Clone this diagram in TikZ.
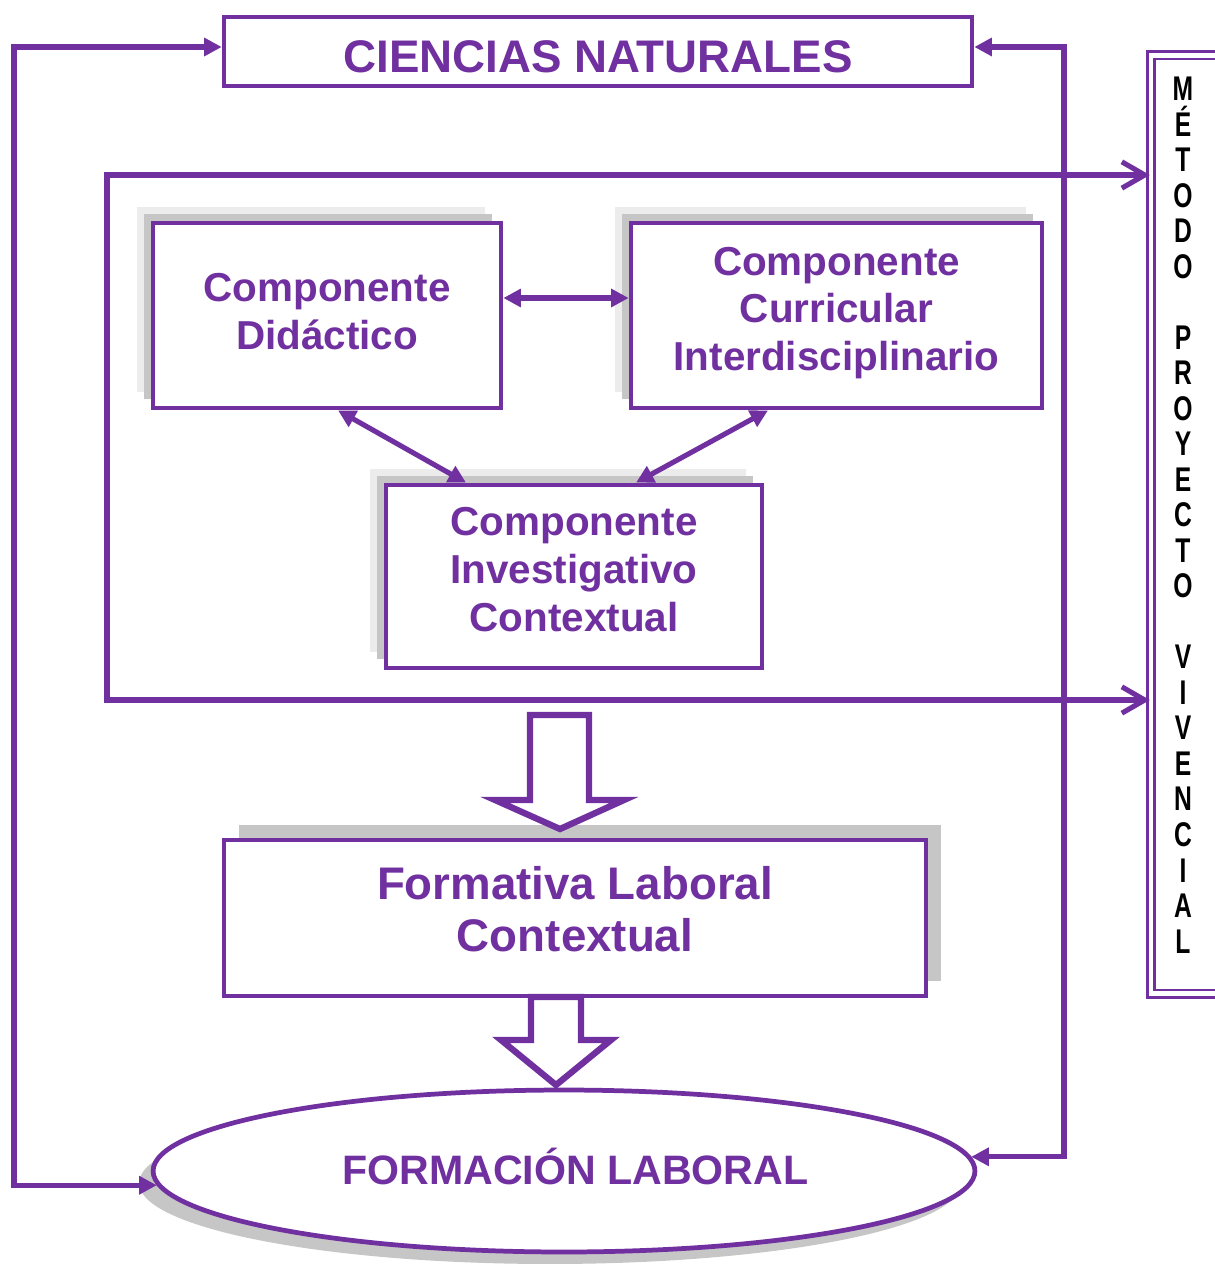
\documentclass[tikz,border=0pt]{standalone}
\usepackage{fontspec}
\setmainfont{Liberation Sans}
\newfontfamily\angosta[FakeStretch=0.72]{Liberation Sans}
\usetikzlibrary{arrows.meta,shapes.geometric,shadows}
\definecolor{morado}{RGB}{112,48,160}

\begin{document}
\begin{tikzpicture}[x=0.02cm,y=-0.02cm,>={Triangle[length=10pt,width=10pt]},
  caja/.style={draw=morado,line width=2.7pt,fill=white,rectangle,align=center,text=morado,
    font=\bfseries\fontsize{23}{27.2}\selectfont},
  sombra/.style={copy shadow={shadow xshift=-0.32cm,shadow yshift=0.32cm,fill=gray!15,draw=none},
    copy shadow={shadow xshift=-0.18cm,shadow yshift=0.18cm,fill=gray!45,draw=none}},
  linea/.style={draw=morado,line width=2.9pt},
  marco/.style={draw=morado,line width=2.9pt,
    arrows={Straight Barb[length=13pt,width=15pt]-Straight Barb[length=13pt,width=15pt]}},
  bloque/.style={draw=morado,line width=3.6pt,fill=white,line join=miter}]
\useasboundingbox (0,0) rectangle (1214,1266);

%metodo proyecto vivencial
\node [draw=morado,double,line width=1.4pt,double distance=2.8pt,rectangle,
  minimum width=1.56cm,minimum height=18.78cm] (metodo) at(1190,524.5){};
\node [align=center,font=\angosta\bfseries\fontsize{19.5}{20.22}\selectfont] (metodotxt) at(1183,515)
  {M\\É\\T\\O\\D\\O\\~\\P\\R\\O\\Y\\E\\C\\T\\O\\~\\V\\I\\V\\E\\N\\C\\I\\A\\L};

\node [caja,minimum width=14.96cm,minimum height=1.38cm,text height=0.84cm,text depth=0pt,
  font=\bfseries\fontsize{26}{30}\selectfont] (ciencias) at(598,51.5){CIENCIAS NATURALES};

%componentes
\node [caja,sombra,minimum width=6.96cm,minimum height=3.7cm,text depth=0.16cm] (didactico) at(327,315.5)
  {Componente\\Didáctico};
\node [caja,sombra,minimum width=8.22cm,minimum height=3.7cm,text depth=0.27cm] (curricular) at(836.5,315.5)
  {Componente\\Curricular\\Interdisciplinario};
\node [caja,sombra,minimum width=7.52cm,minimum height=3.66cm,text depth=0.28cm] (investigativo) at(574,576.5)
  {Componente\\Investigativo\\Contextual};

\node [caja,minimum width=14.04cm,minimum height=3.12cm,text depth=0.36cm,
  font=\bfseries\fontsize{26}{30}\selectfont,
  copy shadow={shadow xshift=0.3cm,shadow yshift=0.3cm,fill=gray!45,draw=none}] (formativa) at(575,918)
  {Formativa Laboral\\Contextual};

\node [draw=morado,ellipse,line width=2.7pt,fill=white,minimum width=16.44cm,minimum height=3.24cm,
  text=morado,font=\bfseries\fontsize{23.4}{27}\selectfont,text depth=0.2cm,
  copy shadow={shadow xshift=-0.28cm,shadow yshift=-0.24cm,fill=gray!45,draw=none}] (formacion) at(564,1171)
  {\hspace*{0.45cm}FORMACIÓN LABORAL};

\coordinate (izq) at(14,0);
\coordinate (der) at(1064,0);
\coordinate (marcoar) at(107,175);
\coordinate (marcoab) at(107,700);

\draw[marco](marcoar -| metodo.west) -- (marcoar) -- (marcoab) -- (marcoab -| metodo.west);

\draw[linea,<->]([yshift=0.09cm]ciencias.west) -- ([yshift=0.09cm]ciencias.west -| izq)
  -- (formacion.182.6 -| izq) -- (formacion.182.6);
\draw[linea,<->]([yshift=0.09cm]ciencias.east) -- ([yshift=0.09cm]ciencias.east -| der)
  -- (formacion.2.6 -| der) -- (formacion.2.6);

\draw[linea,<->]([yshift=0.35cm]didactico.east) -- ([yshift=0.35cm]curricular.west);
\draw[linea,<->]([xshift=0.22cm]didactico.south) -- ([xshift=-2.16cm]investigativo.north);
\draw[linea,<->]([xshift=-1.37cm]curricular.south) -- ([xshift=1.24cm]investigativo.north);

%flechas de bloque
\draw[bloque](530,715) -- (530,800) -- (495,800) -- (560,829) -- (624,800) -- (589,800) -- (589,715) -- cycle;
\draw[bloque](531,997) -- (531,1040) -- (501,1040) -- (556,1085) -- (611,1040) -- (581,1040) -- (581,997) -- cycle;

\end{tikzpicture}
\end{document}
